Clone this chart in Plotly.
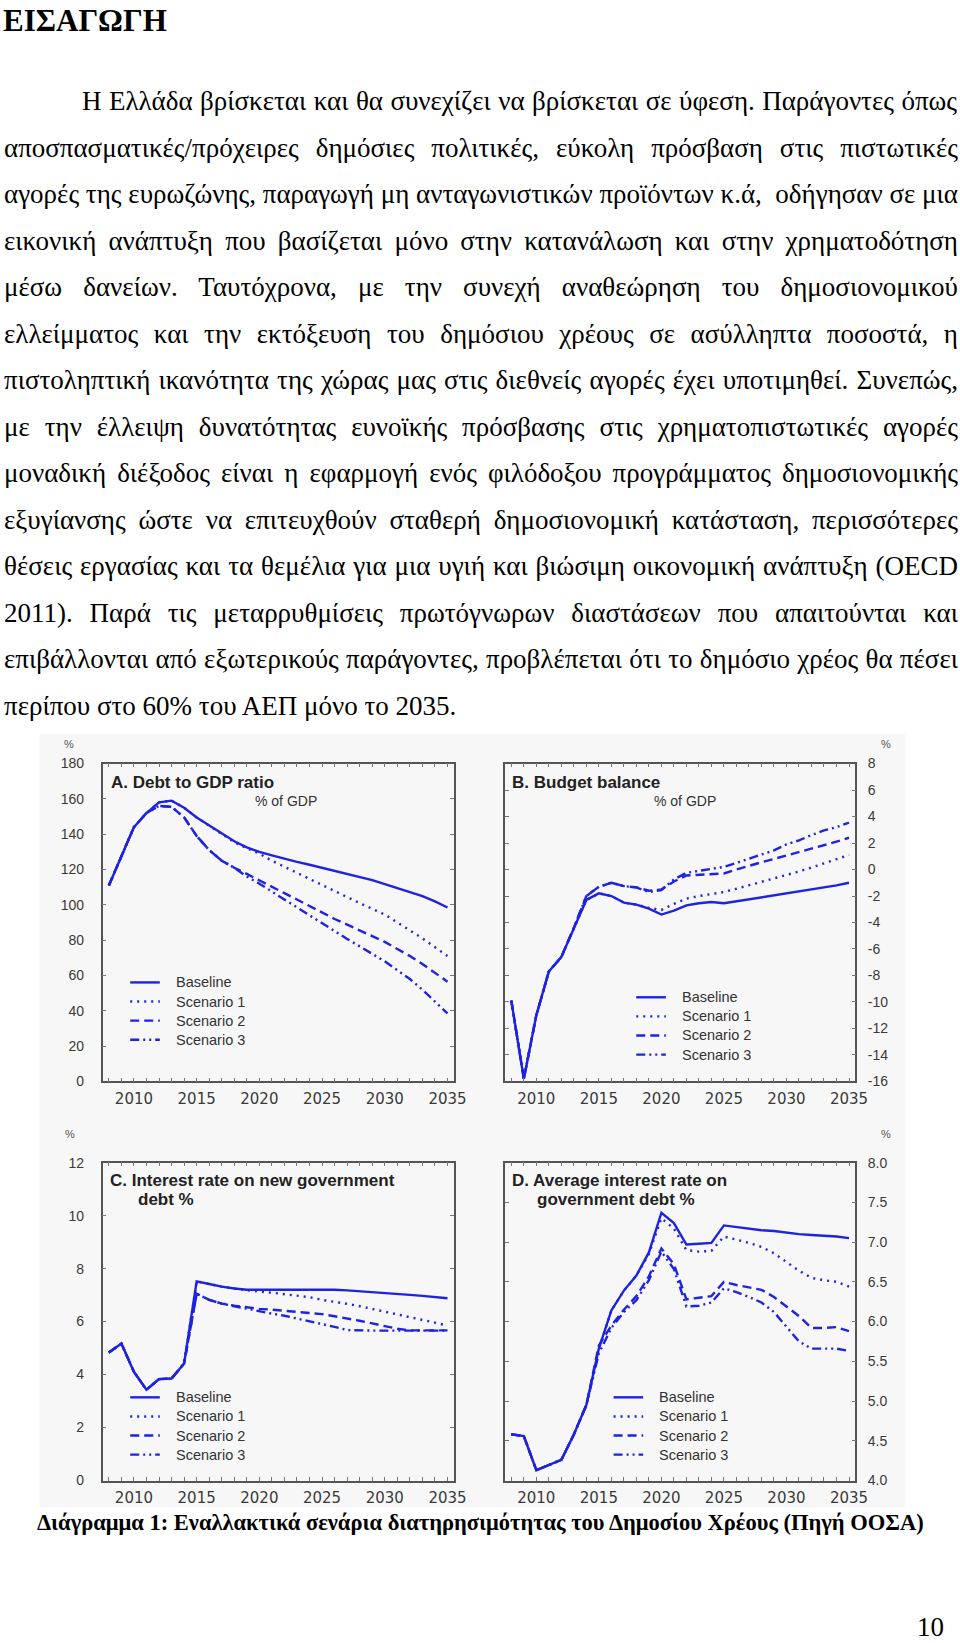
import json
import plotly.graph_objects as go

W, H = 960, 1643

# ---------------- data ----------------
years = list(range(2008, 2036))
series_names = ["Baseline", "Scenario 1", "Scenario 2", "Scenario 3"]

debt_baseline = [111, 128, 144, 152, 158, 159, 155, 149.5, 145, 140.5, 136, 132.5, 130, 128, 126, 124.3,
                 122.7, 121, 119.3, 117.5, 115.7, 114, 111.7, 109.6, 107.4, 105, 102, 98.5]
debt_scen1 = [111, 128, 144, 152, 158, 159, 155, 149.5, 145, 140, 135.5, 132, 129, 125, 121.5, 118,
              114.5, 111, 107.7, 104.4, 101, 97.8, 94.5, 90, 85.5, 81, 76, 71]
debt_scen2 = [111, 128, 144, 152, 156, 155.5, 149.5, 139, 131, 125, 121, 117.5, 114, 110.3, 106.6, 103,
              99.2, 95.5, 92, 88.8, 85.5, 82.3, 79, 75, 71, 66.5, 61.5, 56.5]
debt_scen3 = [111, 128, 144, 152, 156, 155.5, 149.5, 139, 131, 125, 121, 116, 112, 107.5, 103, 98.5,
              94, 89.5, 85, 80.7, 76.5, 72.3, 68, 63, 58, 52, 45.5, 38.5]

bal_baseline = [-9.9, -15.8, -11, -7.7, -6.6, -4.4, -2.3, -1.8, -2.0, -2.5, -2.65, -2.95, -3.4, -3.1,
                -2.7, -2.55, -2.45, -2.55, -2.4, -2.25, -2.1, -2.0, -1.85, -1.7, -1.55, -1.4, -1.2, -1.0]
bal_scen1 = [-9.9, -15.8, -11, -7.7, -6.6, -4.4, -2.3, -1.8, -2.0, -2.5, -2.65, -2.9, -3.05, -2.6,
             -2.2, -2.0, -1.85, -1.7, -1.45, -1.2, -0.95, -0.7, -0.45, -0.15, 0.15, 0.45, 0.75, 1.1]
bal_scen2 = [-9.9, -15.8, -11, -7.7, -6.6, -4.4, -2.0, -1.3, -1.0, -1.25, -1.35, -1.6, -1.5, -0.9,
             -0.45, -0.4, -0.35, -0.3, 0.0, 0.3, 0.55, 0.8, 1.05, 1.3, 1.6, 1.85, 2.1, 2.4]
bal_scen3 = [-9.9, -15.8, -11, -7.7, -6.6, -4.4, -2.0, -1.3, -1.0, -1.25, -1.35, -1.7, -1.55, -0.75,
             -0.25, -0.1, 0.1, 0.2, 0.5, 0.8, 1.1, 1.45, 1.9, 2.2, 2.6, 2.95, 3.2, 3.55]

new_baseline = [4.83, 5.17, 4.1, 3.43, 3.83, 3.85, 4.42, 7.52, 7.42, 7.32, 7.25, 7.2, 7.2, 7.2, 7.2,
                7.21, 7.22, 7.22, 7.2, 7.18, 7.15, 7.12, 7.09, 7.05, 7.01, 6.97, 6.93, 6.88]
new_scen1 = [4.83, 5.17, 4.1, 3.43, 3.83, 3.85, 4.42, 7.52, 7.42, 7.32, 7.25, 7.18, 7.13, 7.09, 7.04,
             6.99, 6.92, 6.82, 6.75, 6.67, 6.58, 6.48, 6.37, 6.27, 6.17, 6.06, 5.96, 5.85]
new_scen2 = [4.83, 5.17, 4.1, 3.43, 3.83, 3.85, 4.42, 7.05, 6.82, 6.68, 6.6, 6.53, 6.48, 6.45, 6.41,
             6.37, 6.33, 6.28, 6.2, 6.12, 6.03, 5.93, 5.83, 5.73, 5.67, 5.67, 5.67, 5.67]
new_scen3 = [4.83, 5.17, 4.1, 3.43, 3.83, 3.85, 4.42, 7.05, 6.82, 6.68, 6.58, 6.48, 6.38, 6.3, 6.22,
             6.12, 6.02, 5.92, 5.8, 5.68, 5.66, 5.66, 5.66, 5.66, 5.66, 5.66, 5.66, 5.66]

avg_baseline = [4.58, 4.56, 4.13, 4.2, 4.26, 4.58, 4.95, 5.66, 6.14, 6.39, 6.58, 6.87, 7.37, 7.24, 6.97,
                6.98, 6.99, 7.21, 7.19, 7.17, 7.15, 7.14, 7.12, 7.1, 7.09, 7.08, 7.07, 7.05]
avg_scen1 = [4.58, 4.56, 4.13, 4.2, 4.26, 4.58, 4.95, 5.66, 6.14, 6.39, 6.58, 6.85, 7.3, 7.17, 6.9,
             6.88, 6.89, 7.07, 7.03, 6.99, 6.94, 6.86, 6.75, 6.64, 6.55, 6.52, 6.5, 6.44]
avg_scen2 = [4.58, 4.56, 4.13, 4.2, 4.26, 4.58, 4.95, 5.7, 5.95, 6.15, 6.32, 6.57, 6.92, 6.72, 6.28,
             6.3, 6.32, 6.5, 6.46, 6.43, 6.4, 6.31, 6.19, 6.07, 5.92, 5.92, 5.93, 5.88]
avg_scen3 = [4.58, 4.56, 4.13, 4.2, 4.26, 4.58, 4.95, 5.6, 5.92, 6.12, 6.27, 6.52, 6.88, 6.66, 6.19,
             6.2, 6.24, 6.42, 6.37, 6.31, 6.24, 6.12, 5.93, 5.75, 5.66, 5.66, 5.66, 5.63]

x_tick_vals = [2010, 2015, 2020, 2025, 2030, 2035]
x_tick_text = ["2010", "2015", "2020", "2025", "2030", "2035"]
a_tick_vals = [0, 20, 40, 60, 80, 100, 120, 140, 160, 180]
a_tick_text = ["0", "20", "40", "60", "80", "100", "120", "140", "160", "180"]
b_tick_vals = [-16, -14, -12, -10, -8, -6, -4, -2, 0, 2, 4, 6, 8]
b_tick_text = ["-16", "-14", "-12", "-10", "-8", "-6", "-4", "-2", "0", "2", "4", "6", "8"]
c_tick_vals = [0, 2, 4, 6, 8, 10, 12]
c_tick_text = ["0", "2", "4", "6", "8", "10", "12"]
d_tick_vals = [4.0, 4.5, 5.0, 5.5, 6.0, 6.5, 7.0, 7.5, 8.0]
d_tick_text = ["4.0", "4.5", "5.0", "5.5", "6.0", "6.5", "7.0", "7.5", "8.0"]

heading = "ΕΙΣΑΓΩΓΗ"
para_lines = [
    "Η Ελλάδα βρίσκεται και θα συνεχίζει να βρίσκεται σε ύφεση. Παράγοντες όπως",
    "αποσπασματικές/πρόχειρες δημόσιες πολιτικές, εύκολη πρόσβαση στις πιστωτικές",
    "αγορές της ευρωζώνης, παραγωγή μη ανταγωνιστικών προϊόντων κ.ά,  οδήγησαν σε μια",
    "εικονική ανάπτυξη που βασίζεται μόνο στην κατανάλωση και στην χρηματοδότηση",
    "μέσω δανείων. Ταυτόχρονα, με την συνεχή αναθεώρηση του δημοσιονομικού",
    "ελλείμματος και την εκτόξευση του δημόσιου χρέους σε ασύλληπτα ποσοστά, η",
    "πιστοληπτική ικανότητα της χώρας μας στις διεθνείς αγορές έχει υποτιμηθεί. Συνεπώς,",
    "με την έλλειψη δυνατότητας ευνοϊκής πρόσβασης στις χρηματοπιστωτικές αγορές",
    "μοναδική διέξοδος είναι η εφαρμογή ενός φιλόδοξου προγράμματος δημοσιονομικής",
    "εξυγίανσης ώστε να επιτευχθούν σταθερή δημοσιονομική κατάσταση, περισσότερες",
    "θέσεις εργασίας και τα θεμέλια για μια υγιή και βιώσιμη οικονομική ανάπτυξη (OECD",
    "2011). Παρά τις μεταρρυθμίσεις πρωτόγνωρων διαστάσεων που απαιτούνται και",
    "επιβάλλονται από εξωτερικούς παράγοντες, προβλέπεται ότι το δημόσιο χρέος θα πέσει",
    "περίπου στο 60% του ΑΕΠ μόνο το 2035.",
]
caption = "Διάγραμμα 1: Εναλλακτικά σενάρια διατηρησιμότητας του Δημοσίου Χρέους (Πηγή ΟΟΣΑ)"
page_number = "10"

panel_titles = {
    "A": ["A. Debt to GDP ratio"],
    "B": ["B. Budget balance"],
    "C": ["C. Interest rate on new government", "debt %"],
    "D": ["D. Average interest rate on", "government debt %"],
}
subtitle = "% of GDP"

# ---------------- helpers ----------------
def px_x(p):
    return p / W

def px_y(p):
    return 1 - p / H

BLUE = "#1f22e0"
DASHES = ["solid", "2px,5px", "9px,5px", "9px,4px,2px,4px,2px,4px"]
SERIF = "Liberation Serif, Times New Roman, serif"
SANS = "Liberation Sans, Arial, sans-serif"
LW = 2.4

fig = go.Figure()

panels = [
    ("A", "x", "y", (104, 460, 763, 1084), [debt_baseline, debt_scen1, debt_scen2, debt_scen3],
     (0, 180), (a_tick_vals, a_tick_text), "left"),
    ("B", "x2", "y2", (512, 867, 763, 1084), [bal_baseline, bal_scen1, bal_scen2, bal_scen3],
     (-16, 8), (b_tick_vals, b_tick_text), "right"),
    ("C", "x3", "y3", (104, 460, 1166, 1487), [new_baseline, new_scen1, new_scen2, new_scen3],
     (0, 12), (c_tick_vals, c_tick_text), "left"),
    ("D", "x4", "y4", (512, 867, 1166, 1487), [avg_baseline, avg_scen1, avg_scen2, avg_scen3],
     (4, 8), (d_tick_vals, d_tick_text), "right"),
]

# legend key: line start x, first row centre y
legend_pos = {"A": (132, 984), "B": (645, 999), "C": (132, 1403), "D": (622, 1403)}
LEG_STEP = 19.3

layout = dict(
    width=W, height=H,
    margin=dict(l=0, r=0, t=0, b=0),
    paper_bgcolor="white",
    plot_bgcolor="rgba(0,0,0,0)",
    showlegend=False,
    font=dict(family=SANS, color="#333"),
)

shapes = [dict(type="rect", xref="paper", yref="paper",
               x0=px_x(40), x1=px_x(918), y0=px_y(1514), y1=px_y(733),
               fillcolor="#f7f7f7", line=dict(width=0), layer="below")]
annotations = []

for key, xa, ya, (l, r, t, b), data, yr, (tv, tt), side in panels:
    for name, vals, dash in zip(series_names, data, DASHES):
        fig.add_trace(go.Scatter(
            x=years, y=vals, mode="lines", name=name, xaxis=xa, yaxis=ya,
            line=dict(color=BLUE, width=LW, dash=dash),
        ))
    xname = "xaxis" if xa == "x" else "xaxis" + xa[1:]
    yname = "yaxis" if ya == "y" else "yaxis" + ya[1:]
    layout[xname] = dict(
        domain=[px_x(l), px_x(r)], anchor=ya, range=[2007.5, 2035.5],
        tickmode="array", tickvals=x_tick_vals, ticktext=x_tick_text,
        ticks="inside", ticklen=4, tickcolor="#777", tickwidth=1,
        minor=dict(dtick=1, tick0=2008, ticks="inside", ticklen=4, tickcolor="#777", tickwidth=1),
        showline=True, linecolor="#555", linewidth=1.5, mirror="allticks",
        showgrid=False, zeroline=False, ticklabelstandoff=3,
        tickfont=dict(family="DejaVu Sans, sans-serif", size=15, color="#3a3a3a"), fixedrange=True,
    )
    layout[yname] = dict(
        domain=[px_y(b), px_y(t)], anchor=xa, range=list(yr), side=side,
        tickmode="array", tickvals=tv, ticktext=tt,
        ticks="inside", ticklen=4, tickcolor="#777", tickwidth=1,
        showline=True, linecolor="#555", linewidth=1.5, mirror="allticks",
        showgrid=False, zeroline=False,
        ticklabelstandoff=14 if side == "left" else 8,
        tickfont=dict(family=SANS, size=14, color="#3a3a3a"), fixedrange=True,
    )
    # legend key drawn from the series names and styles
    lx, ly = legend_pos[key]
    for i, (name, dash) in enumerate(zip(series_names, DASHES)):
        yy = ly + i * LEG_STEP
        shapes.append(dict(type="line", xref="paper", yref="paper",
                           x0=px_x(lx), x1=px_x(lx + 30), y0=px_y(yy), y1=px_y(yy),
                           line=dict(color=BLUE, width=LW, dash=dash)))
        annotations.append(dict(text=name, x=px_x(lx + 45), y=px_y(yy), xref="paper", yref="paper",
                                xanchor="left", yanchor="middle", align="left", showarrow=False,
                                borderpad=0, font=dict(family=SANS, size=14.5, color="#333")))

# unit labels
for (ux, uy) in [(63, 743), (905, 743), (64, 1145), (905, 1145)]:
    annotations.append(dict(text="%", x=px_x(ux), y=px_y(uy), xref="paper", yref="paper",
                            showarrow=False, font=dict(family=SANS, size=11, color="#555")))

# panel titles
title_pos = {"A": [(112, 782)], "B": [(518, 782)], "C": [(110, 1184), (139, 1203)],
             "D": [(518, 1184), (543, 1203)]}
for k, lines in panel_titles.items():
    for txt, (tx, ty) in zip(lines, title_pos[k]):
        annotations.append(dict(text="<b>" + txt + "</b>", x=px_x(tx), y=px_y(ty), xref="paper",
                                yref="paper", xanchor="left", yanchor="middle", align="left",
                                showarrow=False, borderpad=0,
                                font=dict(family=SANS, size=17, color="#222")))
for (sx, sy) in [(257, 801), (662, 801)]:
    annotations.append(dict(text=subtitle, x=px_x(sx), y=px_y(sy), xref="paper", yref="paper",
                            xanchor="left", yanchor="middle", align="left", showarrow=False,
                            borderpad=0, font=dict(family=SANS, size=14, color="#333")))

# page text
annotations.append(dict(text="<b>" + heading + "</b>", x=px_x(2), y=px_y(13), xref="paper",
                        yref="paper", xanchor="left", yanchor="middle", align="left",
                        showarrow=False, borderpad=0,
                        font=dict(family=SERIF, size=31, color="black")))

justify = {}
FS = 27
for i, line in enumerate(para_lines):
    x0 = 82 if i == 0 else 3
    base = 103 + 47 * i
    idx = len(annotations)
    annotations.append(dict(text=line, x=px_x(x0), y=px_y(base - 0.3375 * FS), xref="paper",
                            yref="paper", xanchor="left", yanchor="middle", align="left",
                            showarrow=False, borderpad=0,
                            font=dict(family=SERIF, size=FS, color="black")))
    if i < len(para_lines) - 1:
        justify[str(idx)] = 957 - x0

annotations.append(dict(text="<b>" + caption + "</b>", x=px_x(37), y=px_y(1529), xref="paper",
                        yref="paper", xanchor="left", yanchor="middle", align="left",
                        showarrow=False, borderpad=0,
                        font=dict(family=SERIF, size=22.5, color="black")))
annotations.append(dict(text=page_number, x=px_x(929), y=px_y(1635), xref="paper",
                        yref="paper", xanchor="left", yanchor="middle", align="left",
                        showarrow=False, borderpad=0,
                        font=dict(family=SERIF, size=27, color="black")))

layout["annotations"] = annotations
layout["shapes"] = shapes
fig.update_layout(**layout)

post = """
(function(){
  var gd = document.getElementById('{plot_id}');
  var J = __J__;
  function run(){
    for (var k in J){
      var g = gd.querySelector('g.annotation[data-index="' + k + '"]');
      if (!g) continue;
      var t = g.querySelector('text.annotation-text');
      if (!t) continue;
      t.style.wordSpacing = '0px';
      var w = t.getComputedTextLength();
      var m = t.textContent.match(/[ \\u00a0]/g);
      var n = m ? m.length : 0;
      if (n < 1) continue;
      t.style.wordSpacing = ((J[k] - w) / n) + 'px';
    }
  }
  run();
  if (document.fonts && document.fonts.ready) { document.fonts.ready.then(run); }
  setTimeout(run, 150);
  setTimeout(run, 600);
})();
""".replace("__J__", json.dumps(justify))

fig.write_html("out.html", post_script=post, config={"displayModeBar": False})
